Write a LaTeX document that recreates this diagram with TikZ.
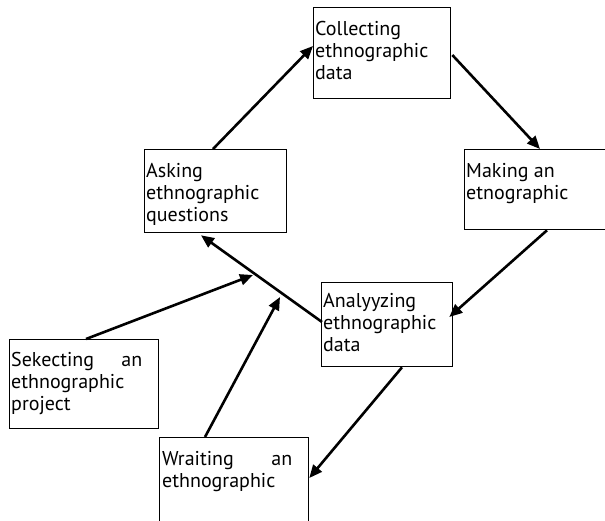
\documentclass[tikz,border=0pt]{standalone}
\usepackage{fontspec}
\setmainfont{PT Sans}
\usetikzlibrary{arrows.meta}
\begin{document}
\begin{tikzpicture}[x=1pt,y=-1pt,
  stage/.style={draw,line width=1.3pt,rectangle,inner sep=0pt,anchor=north west},
  caption/.style={anchor=base west,inner sep=0pt,font=\fontsize{20}{22}\selectfont},
  flow/.style={line width=2.6pt,-{Triangle[length=13pt,width=11pt]}}]
\useasboundingbox (0,0) rectangle (605,520);

% stage boxes
\node[stage,minimum width=137pt,minimum height=91pt] (collect) at (313,7) {};
\node[stage,minimum width=142pt,minimum height=83pt] (ask) at (144,149) {};
\node[stage,minimum width=150pt,minimum height=80pt] (make) at (464,149) {};
\node[stage,minimum width=131pt,minimum height=84pt] (analyze) at (321,282) {};
\node[stage,minimum width=149pt,minimum height=89pt] (select) at (9,339) {};
\node[stage,minimum width=149pt,minimum height=95pt] (write) at (159,437) {};

% box texts
\node[caption] (collectT) at ([shift={(2,28)}]collect.north west)
  {\parbox[t]{133pt}{Collecting\\ethnographic\\data}};
\node[caption] (askT) at ([shift={(2,28)}]ask.north west)
  {\parbox[t]{138pt}{Asking\\ethnographic\\questions}};
\node[caption] (makeT) at ([shift={(2,28)}]make.north west)
  {\parbox[t]{138pt}{Making an\\etnographic}};
\node[caption] (analyzeT) at ([shift={(2,25)}]analyze.north west)
  {\parbox[t]{127pt}{Analyyzing\\ethnographic\\data}};
\node[caption] (selectT) at ([shift={(2,27)}]select.north west)
  {\parbox[t]{131pt}{Sekecting\hfill an\\ethnographic\\project}};
\node[caption] (writeT) at ([shift={(3,28)}]write.north west)
  {\parbox[t]{130pt}{Wraiting\hfill an\\ethnographic}};

% loose arrow ends
\coordinate (selEnd) at (253,275);
\coordinate (wrEnd) at (280,297);

% connectors
\draw[flow] ([shift={(69,0)}]ask.north west) -- ([shift={(0,39)}]collect.north west);
\draw[flow] ([shift={(1,48)}]collect.north east) -- ([shift={(76,0)}]make.north west);
\draw[flow] ([shift={(83,0)}]make.south west) -- ([shift={(-4,35)}]analyze.north east);
\draw[flow] ([shift={(1,40)}]analyze.north west) -- ([shift={(57,2)}]ask.south west);
\draw[flow] ([shift={(77,0)}]select.north west) -- (selEnd);
\draw[flow] ([shift={(46,0)}]write.north west) -- (wrEnd);
\draw[flow] ([shift={(81,0)}]analyze.south west) -- ([shift={(0,41)}]write.north east);
\end{tikzpicture}
\end{document}
